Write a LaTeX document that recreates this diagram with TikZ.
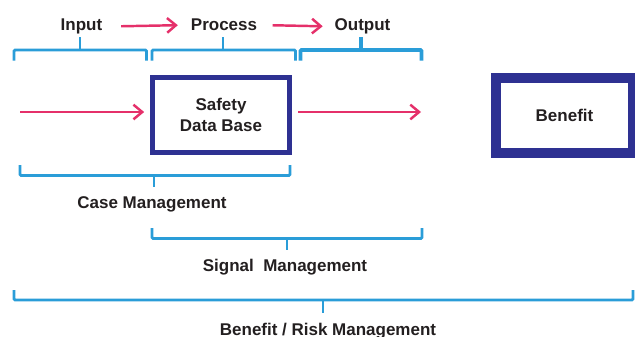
\documentclass[tikz,border=0pt]{standalone}
\usepackage{fontspec}
\setmainfont{Liberation Sans}
\usepackage{xcolor}
\usepackage{tikz}
\usetikzlibrary{arrows.meta, positioning, calc}
\definecolor{boxnavy}{HTML}{2E3192}
\definecolor{flowpink}{HTML}{E5306A}
\definecolor{braceblue}{HTML}{2A9DD8}
\definecolor{textgray}{HTML}{231F20}

\begin{document}
\begin{tikzpicture}[
    x=0.03cm, y=-0.03cm,
    every node/.style={font=\fontsize{14.5}{18.4}\selectfont\bfseries, text=textgray},
    label/.style={inner sep=0pt, anchor=base},
    store/.style={rectangle, draw=boxnavy, fill=white, inner sep=0pt, minimum width=4.11cm, minimum height=2.25cm, align=center},
    flow/.style={draw=flowpink, line width=2.1pt, -{Straight Barb[length=7.5pt, width=12.5pt, line width=2.1pt]}},
    bracket/.style={draw=braceblue, line width=2.5pt, rounded corners=1pt}
]
\useasboundingbox (0,0) rectangle (635,337);

% stages
\node[label] (input) at (81.5,30.7) {Input};
\node[label] (process) at (224,30.7) {Process};
\node[label] (output) at (362.5,30.7) {Output};
\draw[flow, shorten <=16pt, shorten >=11pt] (input.east) -- (process.west);
\draw[flow, shorten <=13pt, shorten >=10pt] (process.east) -- (output.west);

% top brackets
\draw[bracket] (14,60.5) -- (14,50) -- (146.5,50) -- (146.5,60.5);
\draw[bracket] (80,50) -- (80,37);
\draw[bracket] (152,60.5) -- (152,50) -- (295.5,50) -- (295.5,60.5);
\draw[bracket] (223,50) -- (223,37);
\draw[bracket, line width=3.4pt] (300.5,60.5) -- (300.5,50) -- (421.5,50) -- (421.5,60.5);
\draw[bracket, line width=3.4pt] (361,50) -- (361,37);

% boxes
\node[store, line width=4.25pt] (sdb) at (221,115) {Safety\\Data Base};
\node[store, line width=8.5pt] (benefit) at (564.5,115.5) {Benefit};
\coordinate (src) at (20,112);
\coordinate (dst) at (421,112);
\draw[flow, shorten >=5pt] (src) -- (src -| sdb.west);
\draw[flow, shorten <=5.5pt] (dst -| sdb.east) -- (dst);

% lower brackets
\draw[bracket] (20,165) -- (20,175.5) -- (290,175.5) -- (290,165);
\draw[bracket] (154,175.5) -- (154,187);
\node[label] (casemgmt) at (152,208.3) {Case Management};

\draw[bracket] (152,228) -- (152,238.5) -- (422,238.5) -- (422,228);
\draw[bracket] (287,238.5) -- (287,250);
\node[label] (signalmgmt) at (285,271.7) {Signal\ \ Management};

\draw[bracket] (14,290) -- (14,300) -- (633,300) -- (633,290);
\draw[bracket] (323,300) -- (323,313);
\node[label] (brmgmt) at (328,335) {Benefit / Risk Management};

\end{tikzpicture}
\end{document}
